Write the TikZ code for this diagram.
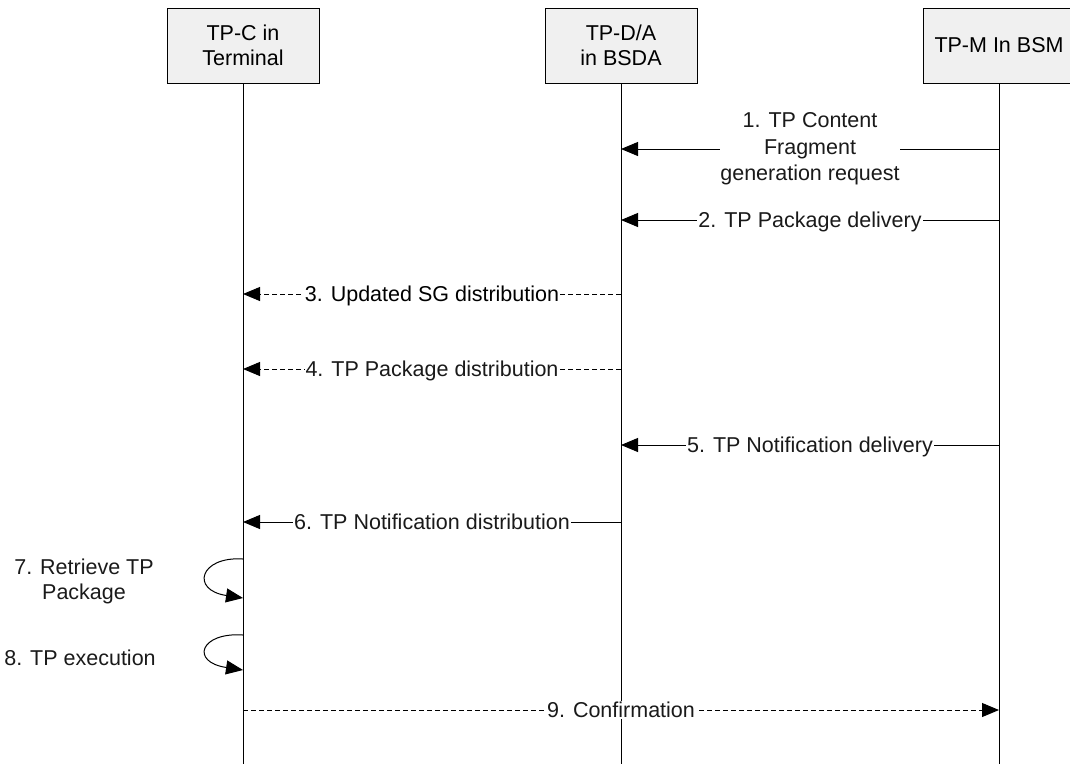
\documentclass[tikz,border=0pt]{standalone}
\usepackage{fontspec}
\setmainfont{Liberation Sans}
\usetikzlibrary{arrows.meta}
\definecolor{boxgray}{HTML}{F0F0F0}
\definecolor{txt}{HTML}{1A1A1A}
\begin{document}
\begin{tikzpicture}[x=1pt,y=-1pt,
  font=\fontsize{21.5}{25}\selectfont,
  actor/.style={draw=black, line width=1pt, fill=boxgray, minimum width=152pt, minimum height=75pt, align=center, inner sep=0pt},
  life/.style={line width=1pt},
  msg/.style={line width=1pt, -{Triangle[length=17pt,width=14pt]}},
  dmsg/.style={msg, dash pattern=on 5pt off 3pt},
  lbl/.style={fill=white, inner xsep=1pt, inner ysep=1pt, text height=15.4pt, text depth=0pt, text=txt},
  side/.style={align=center, text=txt},
]
\useasboundingbox (0,0) rectangle (1070,764);

% actors
\node[actor] (C) at (243,45.5) {TP-C in\\Terminal};
\node[actor] (D) at (621,45.5) {TP-D/A\\in BSDA};
\node[actor] (M) at (999,45.5) {TP-M In BSM};

% lifeline ends
\coordinate (Cend) at (243,764);
\coordinate (Dend) at (621,764);
\coordinate (Mend) at (999,764);
\draw[life] (C.south) -- (Cend);
\draw[life] (D.south) -- (Dend);
\draw[life] (M.south) -- (Mend);

% message end points
\coordinate (m1s) at (999,149);  \coordinate (m1e) at (621,149);
\coordinate (m2s) at (999,220);  \coordinate (m2e) at (621,220);
\coordinate (m3s) at (621,294);  \coordinate (m3e) at (243,294);
\coordinate (m4s) at (621,369);  \coordinate (m4e) at (243,369);
\coordinate (m5s) at (999,445);  \coordinate (m5e) at (621,445);
\coordinate (m6s) at (621,522);  \coordinate (m6e) at (243,522);
\coordinate (m7s) at (243,559);  \coordinate (m7e) at (243,598);
\coordinate (m8s) at (243,635);  \coordinate (m8e) at (243,670);
\coordinate (m9s) at (243,710);  \coordinate (m9e) at (999,710);

\draw[msg] (m1s) -- node[fill=white, inner xsep=0pt, inner ysep=2pt, align=center, text=txt, font=\fontsize{21.5}{26.7}\selectfont] {1. TP Content\\Fragment\\generation request} (m1e);
\draw[msg] (m2s) -- node[lbl] {2. TP Package delivery} (m2e);
\draw[dmsg] (m3s) -- node[lbl, text=black] {3. Updated SG distribution} (m3e);
\draw[dmsg] (m4s) -- node[lbl] {4. TP Package distribution} (m4e);
\draw[msg] (m5s) -- node[lbl] {5. TP Notification delivery} (m5e);
\draw[msg] (m6s) -- node[lbl] {6. TP Notification distribution} (m6e);
\draw[msg] (m7s) .. controls (200,556) and (190,590) .. (m7e);
\draw[msg] (m8s) .. controls (200,632) and (190,662) .. (m8e);
\draw[dmsg] (m9s) -- node[lbl] {9. Confirmation} (m9e);

\node[side] (l7) at (84,581) {7. Retrieve TP\\Package};
\node[side] (l8) at (80,658) {8. TP execution};
\end{tikzpicture}
\end{document}
